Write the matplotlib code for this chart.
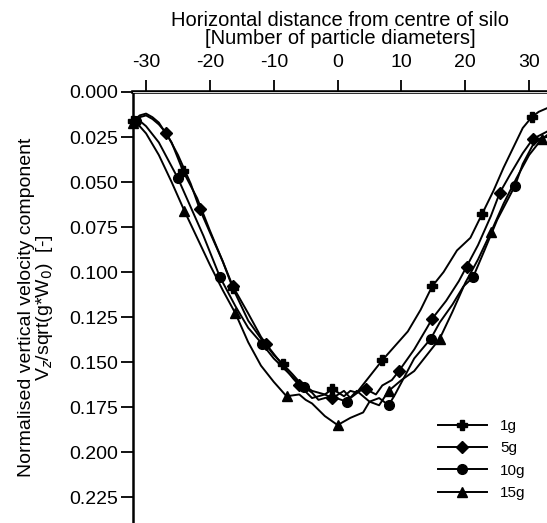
import matplotlib.pyplot as plt

plt.rcParams['font.family'] = ['Liberation Sans', 'DejaVu Sans']
plt.rcParams['axes.unicode_minus'] = False

# Vertical velocity profiles
x_1g = [-32, -31, -30, -29, -28, -26, -24.2, -22, -20, -18, -16.4, -14, -12, -10, -8.6,
        -7, -6, -4, -2, -0.8, 1, 2, 3, 5, 7, 9, 11, 13, 14.8, 16.6, 18.7, 20.8, 22.6,
        24.4, 26, 27.5, 29, 30.4, 31.5, 32.8]
v_1g = [0.016, 0.013, 0.012, 0.014, 0.017, 0.028, 0.044, 0.059, 0.077, 0.094, 0.109,
        0.127, 0.137, 0.146, 0.151, 0.157, 0.161, 0.166, 0.168, 0.165, 0.169, 0.166,
        0.167, 0.158, 0.149, 0.141, 0.133, 0.121, 0.108, 0.100, 0.088, 0.081, 0.068,
        0.055, 0.042, 0.031, 0.020, 0.014, 0.011, 0.009]
marks_1g = [-32, -24.2, -16.4, -8.6, -0.8, 7, 14.8, 22.6, 30.4]

x_5g = [-32, -31, -30, -29, -28, -26.8, -25, -23, -21.6, -20, -18, -16.4, -14, -12,
        -11.2, -9, -7, -6, -4, -2, -0.8, 1, 2, 3.5, 4.4, 6, 7, 8.5, 9.6, 12, 14, 14.8,
        17, 19, 20.2, 22, 24, 25.4, 27, 29, 30.6, 32.8]
v_5g = [0.018, 0.014, 0.013, 0.015, 0.018, 0.023, 0.035, 0.051, 0.065, 0.078, 0.094,
        0.108, 0.123, 0.136, 0.140, 0.150, 0.159, 0.163, 0.170, 0.168, 0.170, 0.166,
        0.170, 0.166, 0.165, 0.168, 0.163, 0.160, 0.155, 0.143, 0.131, 0.126, 0.116,
        0.105, 0.097, 0.085, 0.069, 0.056, 0.046, 0.034, 0.026, 0.022]
marks_5g = [-26.8, -21.6, -16.4, -11.2, -6, -0.8, 4.4, 9.6, 14.8, 20.2, 25.4, 30.6]

x_10g = [-32, -31.6, -31, -30, -28, -26.5, -25, -23, -21, -18.4, -16, -14, -11.8, -10,
         -8, -6.5, -5.2, -4, -3, -1, 1.4, 3, 4, 5, 6.5, 8, 9, 10.5, 12, 14.6, 16, 18,
         19.7, 21.2, 23, 25, 27.8, 29, 30.5, 31.5, 32.8]
v_10g = [0.017, 0.016, 0.016, 0.019, 0.028, 0.038, 0.048, 0.064, 0.080, 0.103, 0.119,
         0.131, 0.140, 0.148, 0.155, 0.160, 0.164, 0.167, 0.171, 0.169, 0.172, 0.166,
         0.169, 0.172, 0.170, 0.174, 0.168, 0.158, 0.148, 0.137, 0.128, 0.118, 0.108,
         0.103, 0.088, 0.071, 0.052, 0.040, 0.030, 0.026, 0.025]
marks_10g = [-31.6, -25, -18.4, -11.8, -5.2, 1.4, 8, 14.6, 21.2, 27.8]

x_15g = [-32, -31, -30, -28, -26, -24, -22, -20, -18, -16, -14, -12, -10, -8, -6, -5,
         -4, -2, 0, 2, 4, 5, 6.5, 8, 10, 12, 14, 16, 18, 20, 22, 24, 26, 28, 30, 32,
         32.8]
v_15g = [0.017, 0.019, 0.023, 0.035, 0.050, 0.066, 0.081, 0.096, 0.110, 0.123, 0.139,
         0.152, 0.161, 0.169, 0.168, 0.171, 0.173, 0.180, 0.185, 0.181, 0.178, 0.172,
         0.174, 0.166, 0.160, 0.155, 0.146, 0.137, 0.122, 0.106, 0.093, 0.078, 0.062,
         0.048, 0.035, 0.026, 0.024]
marks_15g = [-32, -24, -16, -8, 0, 8, 16, 24, 32]

labels = ['1g', '5g', '10g', '15g']
x_ticks = [-30, -20, -10, 0, 10, 20, 30]
y_ticks = [0.000, 0.025, 0.050, 0.075, 0.100, 0.125, 0.150, 0.175, 0.200, 0.225]

series = [(x_1g, v_1g, marks_1g, 'P', 7.5),
          (x_5g, v_5g, marks_5g, 'D', 6),
          (x_10g, v_10g, marks_10g, 'o', 7),
          (x_15g, v_15g, marks_15g, '^', 7.5)]

fig = plt.figure(figsize=(5.47, 5.23), dpi=100)
ax = fig.add_axes([133.3 / 547, 0.0, 1 - 133.3 / 547, 1 - 92 / 523])

for (xs, vs, marks, mk, ms), lab in zip(series, labels):
    idx = [xs.index(m) for m in marks]
    ax.plot(xs, vs, color='black', linewidth=1.4, marker=mk, markersize=ms,
            markevery=idx, label=lab, clip_on=False, zorder=4)

ax.set_xlim(-32, 32.8)
ax.set_ylim(0.2394, 0)

ax.xaxis.tick_top()
ax.xaxis.set_label_position('top')
ax.set_xticks(x_ticks)
ax.set_yticks(y_ticks)
ax.set_yticklabels(['{:.3f}'.format(v) for v in y_ticks])
ax.tick_params(axis='both', direction='out', length=9, width=1.3, labelsize=14,
               color='black')
ax.tick_params(axis='x', pad=6)
ax.tick_params(axis='y', pad=2)

ax.spines['right'].set_visible(False)
ax.spines['bottom'].set_visible(False)
ax.spines['left'].set_linewidth(1.8)
ax.spines['top'].set_linewidth(2.6)
# the top axis is drawn as a double line
ax.axhline(0, color='white', linewidth=0.6, zorder=3, clip_on=False)

ax.set_xlabel('Horizontal distance from centre of silo\n[Number of particle diameters]',
              fontsize=14.5, labelpad=7, linespacing=0.95)
ax.set_ylabel('Normalised vertical velocity component\nV$_z$/sqrt(g*W$_0$)  [-]',
              fontsize=14, labelpad=10, linespacing=0.95)

ax.legend(loc='upper left', bbox_to_anchor=(438 / 547, 1 - 419 / 523),
          bbox_transform=fig.transFigure, frameon=False, fontsize=11, numpoints=1,
          handlelength=3.2, handletextpad=0.85, labelspacing=0.55, borderpad=0,
          borderaxespad=0)

fig.savefig('out.png', dpi=100)
